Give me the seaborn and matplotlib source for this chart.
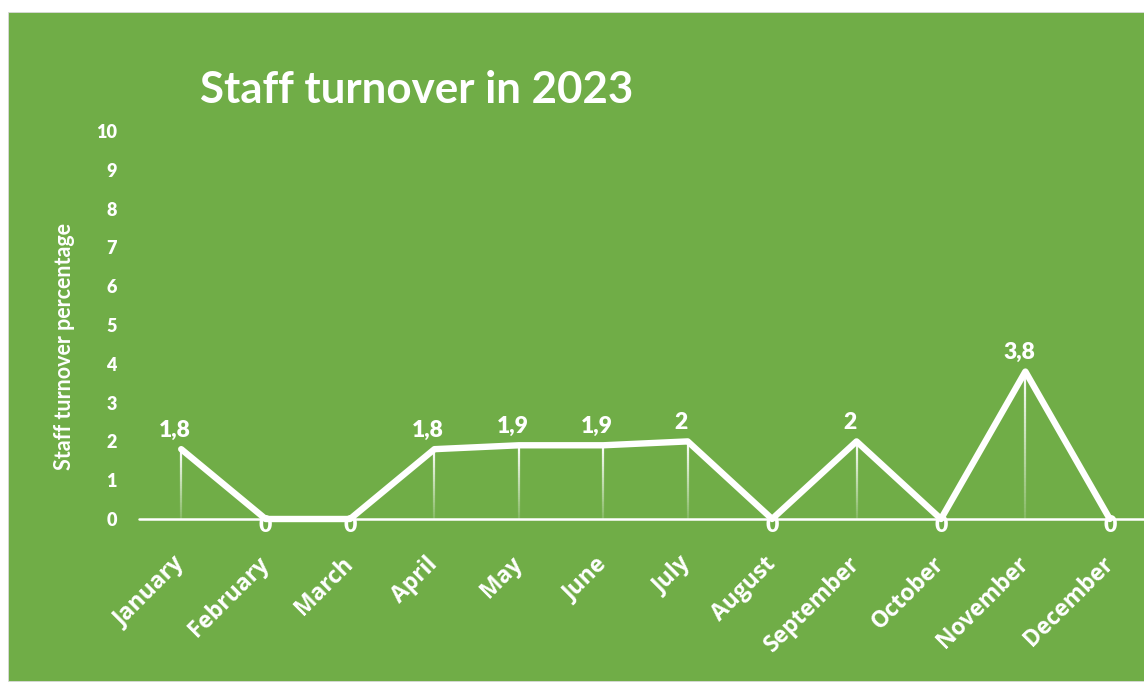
import numpy as np
import pandas as pd
import matplotlib
matplotlib.use("Agg")
import matplotlib.pyplot as plt
from matplotlib.patches import Rectangle
from matplotlib.collections import LineCollection
import seaborn as sns

months = ["January", "February", "March", "April", "May", "June",
          "July", "August", "September", "October", "November", "December"]
turnover = [1.8, 0, 0, 1.8, 1.9, 1.9, 2, 0, 2, 0, 3.8, 0]
y_ticks = list(range(0, 11))

title = "Staff turnover in 2023"
y_title = "Staff turnover percentage"

GREEN = "#70AD47"
WHITE = "#FFFFFF"

sns.set_theme(style="white")
plt.rcParams["font.family"] = ["Lato", "DejaVu Sans"]

W, H = 1144, 682
fig = plt.figure(figsize=(W / 100, H / 100), dpi=100, facecolor="white")

# green card behind the chart
fig.patches.append(Rectangle((8 / W, 1 / H), 1 - 8 / W, (H - 13) / H,
                             transform=fig.transFigure, facecolor=GREEN,
                             edgecolor="#D9D9D9", linewidth=0.6, zorder=-5))

ax = fig.add_axes([139 / W, 1 - 519 / H, 1013 / W, 388 / H])
ax.set_facecolor("none")
ax.set_zorder(2)

df = pd.DataFrame({"month": months, "turnover": turnover})
sns.lineplot(data=df, x="month", y="turnover", sort=False, ax=ax,
             color=WHITE, linewidth=4.6, solid_capstyle="round",
             solid_joinstyle="round", zorder=4, clip_on=False)

ax.set_xlim(-0.5, len(months) - 0.5)
ax.set_ylim(0, 10)

# fading drop lines from each point to the baseline
segs, cols = [], []
n = 40
for i, v in enumerate(turnover):
    if v <= 0:
        continue
    edges = np.linspace(0, v, n + 1)
    for k in range(n):
        segs.append([(i, edges[k]), (i, edges[k + 1])])
        a = (k + 0.5) / n
        cols.append((1, 1, 1, 0.15 + 0.85 * a))
ax.add_collection(LineCollection(segs, colors=cols, linewidths=1.6, zorder=3))

# baseline at zero
ax.axhline(0, color=WHITE, linewidth=1.8, zorder=2, clip_on=False)

# value labels
for i, v in enumerate(turnover):
    txt = f"{v:.1f}".replace(".", ",")
    if txt.endswith(",0"):
        txt = txt[:-2]
    if v == 0:
        offset = (0, -9)
    else:
        offset = (-4.5, 9)
    ax.annotate(txt, (i, v), xytext=offset, textcoords="offset points",
                ha="center", va="baseline", color=WHITE, fontsize=16.5,
                fontweight="heavy", zorder=5, annotation_clip=False)

for s in ax.spines.values():
    s.set_visible(False)

ax.set_yticks(y_ticks)
ax.set_yticklabels([str(t) for t in y_ticks], fontsize=13,
                   fontweight="heavy", color=WHITE)
ax.tick_params(axis="y", length=0, pad=16)

ax.set_xticks(range(len(months)))
ax.set_xticklabels(months, rotation=45, ha="right", va="center",
                   rotation_mode="anchor", fontsize=16.5, fontweight="bold",
                   color=WHITE, fontfamily=["Open Sans", "DejaVu Sans"])
ax.tick_params(axis="x", length=0, pad=30)
ax.set_xlabel("")

ax.set_ylabel(y_title, color=WHITE, fontsize=15.5, fontweight="bold")
ax.yaxis.set_label_coords(-64 / 1013, (519 - 347) / 388)

fig.text(417 / W, 1 - 90 / H, title, ha="center", va="center",
         color=WHITE, fontsize=31.6, fontweight="bold")

fig.savefig("out.png", dpi=100, facecolor=fig.get_facecolor())
